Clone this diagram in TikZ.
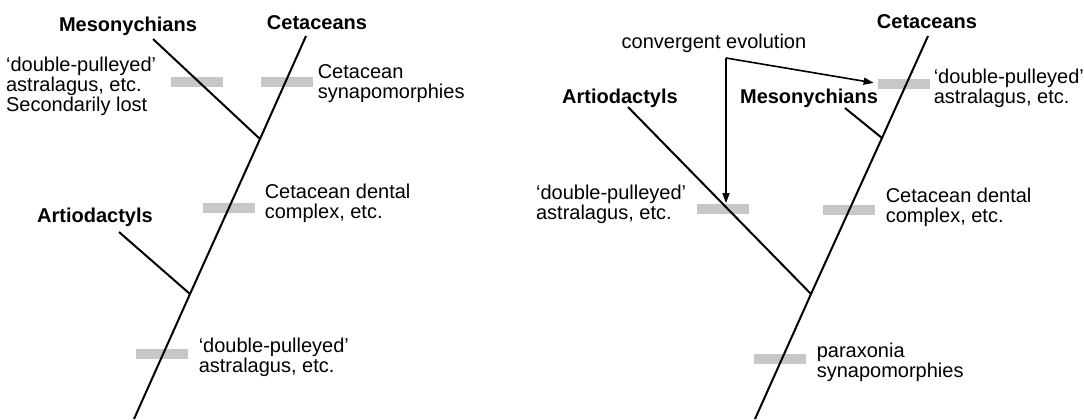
\documentclass[tikz,border=0pt]{standalone}
\usepackage{fontspec}
\setmainfont{Liberation Sans}
\usetikzlibrary{positioning,arrows.meta}

\tikzset{
  taxon/.style={font=\bfseries\fontsize{10}{10}\selectfont, inner sep=0pt},
  note/.style={font=\fontsize{10}{10}\selectfont, align=left, inner sep=0pt},
  trait/.style={fill=black!22, minimum width=26pt, minimum height=5pt, inner sep=0pt},
  branch/.style={line width=1pt},
  pointer/.style={line width=0.8pt, -{Triangle[length=5pt,width=3.5pt]}},
}

\begin{document}
\begin{tikzpicture}[x=0.5pt,y=-0.5pt]
    \useasboundingbox (0,0) rectangle (1084,419);

    % Left tree: points
    \coordinate (lroot) at (134,419);
    \coordinate (lartj) at (190,294);
    \coordinate (lmesj) at (260,139);
    \coordinate (lcet) at (306,36);
    \coordinate (lart) at (119,232);
    \coordinate (lmes) at (153,39);

    % Left tree: taxa
    \node[taxon] (lmesname) at (128,26) {Mesonychians};
    \node[taxon] (lcetname) at (317,23) {Cetaceans};
    \node[taxon] (lartname) at (95,217) {Artiodactyls};

    % Left tree: characters
    \node[trait] (lmesbar) at (197,82) {};
    \node[trait] (lcetbar) at (287,82) {};
    \node[trait] (ldenbar) at (229,208) {};
    \node[trait] (lastbar) at (162,354) {};
    \node[note, left=7pt of lmesbar, yshift=-2pt] (lmesnote) {‘double-pulleyed’\\astralagus, etc.\\Secondarily lost};
    \node[note, right=2pt of lcetbar, yshift=-1pt] (lcetnote) {Cetacean\\synapomorphies};
    \node[note, right=4.5pt of ldenbar, yshift=2.5pt] (ldennote) {Cetacean dental\\complex, etc.};
    \node[note, right=5pt of lastbar, yshift=-1.75pt] (lastnote) {‘double-pulleyed’\\astralagus, etc.};

    % Left tree: branches
    \draw[branch] (lroot) -- (lartj) -- (lmesj) -- (lcet);
    \draw[branch] (lart) -- (lartj);
    \draw[branch] (lmes) -- (lmesj);

    % Right tree: points
    \coordinate (rroot) at (755,419);
    \coordinate (rartj) at (811,294);
    \coordinate (rmesj) at (882,138);
    \coordinate (rcet) at (928,36);
    \coordinate (rart) at (628,107);
    \coordinate (rmes) at (845,108);
    \coordinate (split) at (726,58);

    % Right tree: taxa
    \node[taxon] (rartname) at (620,98) {Artiodactyls};
    \node[taxon] (rmesname) at (809,98) {Mesonychians};
    \node[taxon] (rcetname) at (927,22) {Cetaceans};
    \node[note] (conv) at (714,43) {convergent evolution};

    % Right tree: characters
    \node[trait] (rartbar) at (723,208.5) {};
    \node[trait] (rtopbar) at (904,83.5) {};
    \node[trait] (rdenbar) at (849,209.5) {};
    \node[trait] (rparbar) at (780,359) {};
    \node[note, left=5pt of rartbar, yshift=2pt] (rartnote) {‘double-pulleyed’\\astralagus, etc.};
    \node[note, right=1.5pt of rtopbar, yshift=-2.5pt] (rtopnote) {‘double-pulleyed’\\astralagus, etc.};
    \node[note, right=5pt of rdenbar, yshift=1pt] (rdennote) {Cetacean dental\\complex, etc.};
    \node[note, right=5pt of rparbar, yshift=-1.5pt] (rparnote) {paraxonia\\synapomorphies};

    % Right tree: branches
    \draw[branch] (rroot) -- (rartj) -- (rmesj) -- (rcet);
    \draw[branch] (rart) -- (rartj);
    \draw[branch] (rmes) -- (rmesj);

    % Arrows
    \draw[pointer] (split) -- (split |- rartbar.north);
    \draw[pointer, shorten >=2pt] (split) -- (rtopbar.west);

\end{tikzpicture}
\end{document}
